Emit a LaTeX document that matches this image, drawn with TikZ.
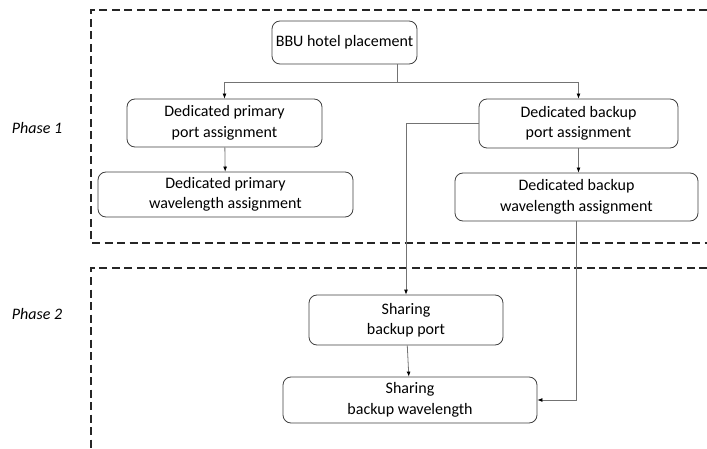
\documentclass[tikz,border=0pt]{standalone}
\usepackage{fontspec}
\setmainfont{Carlito}
\usetikzlibrary{arrows.meta,positioning}

\begin{document}
\begin{tikzpicture}[x=1pt,y=-1pt,>={Latex[length=5pt,width=4pt,color=black]},
 stepbox/.style={draw=black!75,line width=.8pt,rounded corners=8pt,fill=white,
  align=center,inner sep=2pt,font=\fontsize{16}{20.5}\selectfont},
 link/.style={draw=black!55,line width=.8pt},
 phase/.style={draw=black!85,line width=1.3pt,dash pattern=on 8pt off 4.5pt},
 plabel/.style={font=\fontsize{16}{18}\selectfont\itshape}]
 \useasboundingbox (0,0) rectangle (707,449);
 % phase frames
 \draw[phase] (707,10) -- (91,10) -- (91,243) -- (707,243);
 \draw[phase] (707,268) -- (91,268) -- (91,449);
 \node[plabel] (ph1) at (37,128) {Phase 1};
 \node[plabel] (ph2) at (37,314) {Phase 2};
 % steps
 \node[stepbox,minimum width=145pt,minimum height=43pt] (bbu) at (344.5,42.5) {BBU hotel placement};
 \node[stepbox,minimum width=195pt,minimum height=48pt] (ppa) at (224.5,123) {Dedicated primary\\port assignment};
 \node[stepbox,minimum width=255pt,minimum height=45pt] (pwa) at (225.5,194.5) {Dedicated primary\\wavelength assignment};
 \node[stepbox,minimum width=199pt,minimum height=49pt] (bpa) at (578.5,123.5) {Dedicated backup\\port assignment};
 \node[stepbox,minimum width=243pt,minimum height=48pt] (bwa) at (576.5,197) {Dedicated backup\\wavelength assignment};
 \node[stepbox,minimum width=194pt,minimum height=50pt] (sbp) at (406,320) {Sharing\\backup port};
 \node[stepbox,minimum width=254pt,minimum height=46pt] (sbw) at (410,400) {Sharing\\backup wavelength};
 % connectors
 \coordinate (split) at (397,82);
 \draw[link] (bbu.south -| split) -- (split);
 \draw[link,->] (split) -| (ppa.north);
 \draw[link,->] (split) -| (bpa.north);
 \draw[link,->] (ppa) -- (pwa);
 \draw[link,->] (bpa.south) -- (bpa.south |- bwa.north);
 \draw[link,->] (bpa.west) -| (sbp.north);
 \draw[link,->] (sbp) -- (sbw);
 \draw[link,->] (bwa.south) |- (sbw.east);
\end{tikzpicture}
\end{document}
